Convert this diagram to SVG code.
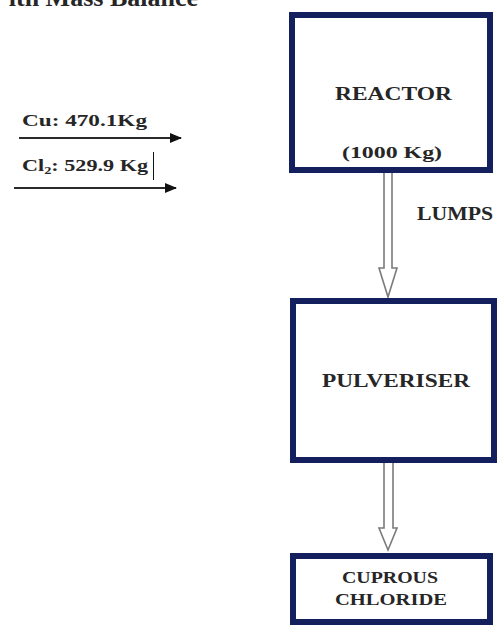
<svg xmlns="http://www.w3.org/2000/svg" width="498" height="626" viewBox="0 0 498 626">
<style>
.box{fill:#ffffff;stroke:#14205e;stroke-width:6}
.t{font-family:"Liberation Serif","Times New Roman",serif;font-weight:bold;fill:#262626}
.flow{fill:#ffffff;stroke:#7a7a7a;stroke-width:1.6;stroke-linejoin:miter}
.feed{stroke:#2a2a2a;stroke-width:2.2;fill:none;marker-end:url(#ah)}
</style>
<defs>
<marker id="ah" viewBox="0 0 12 10" refX="11" refY="5" markerWidth="12" markerHeight="10" markerUnits="userSpaceOnUse" orient="auto">
<path d="M0,0 L12,5 L0,10 Z" fill="#111111"/>
</marker>
</defs>
<rect width="498" height="626" fill="#ffffff"/>
<text class="t" x="198" y="6" font-size="26" text-anchor="end">ith Mass Balance</text>
<g id="connectors">
<line class="feed" x1="19" y1="138" x2="181" y2="138"/>
<line class="feed" x1="14" y1="188" x2="176" y2="188"/>
<polyline class="flow" points="384,173 384,268 379,268 388,297 397,268 392,268 392,173"/>
<polyline class="flow" points="384,463 384,528 379,528 388,550 397,528 393,528 393,463"/>
</g>
<g id="feed-labels">
<text class="t" x="22" y="126" font-size="17" textLength="125" lengthAdjust="spacingAndGlyphs">Cu: 470.1Kg</text>
<text class="t" x="22" y="171" font-size="17" textLength="126" lengthAdjust="spacingAndGlyphs">Cl<tspan font-size="11" dy="3">2</tspan><tspan dy="-3">: 529.9 Kg</tspan></text>
<line x1="153.5" y1="152" x2="153.5" y2="180" stroke="#111111" stroke-width="1"/>
</g>
<g id="reactor">
<rect class="box" x="292" y="15" width="198" height="155"/>
<text class="t" x="335" y="100" font-size="18" textLength="117" lengthAdjust="spacingAndGlyphs">REACTOR</text>
<text class="t" x="342" y="158" font-size="17" textLength="100" lengthAdjust="spacingAndGlyphs">(1000 Kg)</text>
</g>
<g id="lumps-label">
<text class="t" x="417" y="220" font-size="18" textLength="76" lengthAdjust="spacingAndGlyphs">LUMPS</text>
</g>
<g id="pulveriser">
<rect class="box" x="293" y="301" width="201" height="159"/>
<text class="t" x="322" y="387" font-size="18" textLength="148" lengthAdjust="spacingAndGlyphs">PULVERISER</text>
</g>
<g id="cuprous-chloride">
<rect class="box" x="293" y="556" width="197" height="66"/>
<text class="t" x="342" y="583" font-size="16" textLength="96" lengthAdjust="spacingAndGlyphs">CUPROUS</text>
<text class="t" x="335" y="605" font-size="16" textLength="112" lengthAdjust="spacingAndGlyphs">CHLORIDE</text>
</g>
</svg>
